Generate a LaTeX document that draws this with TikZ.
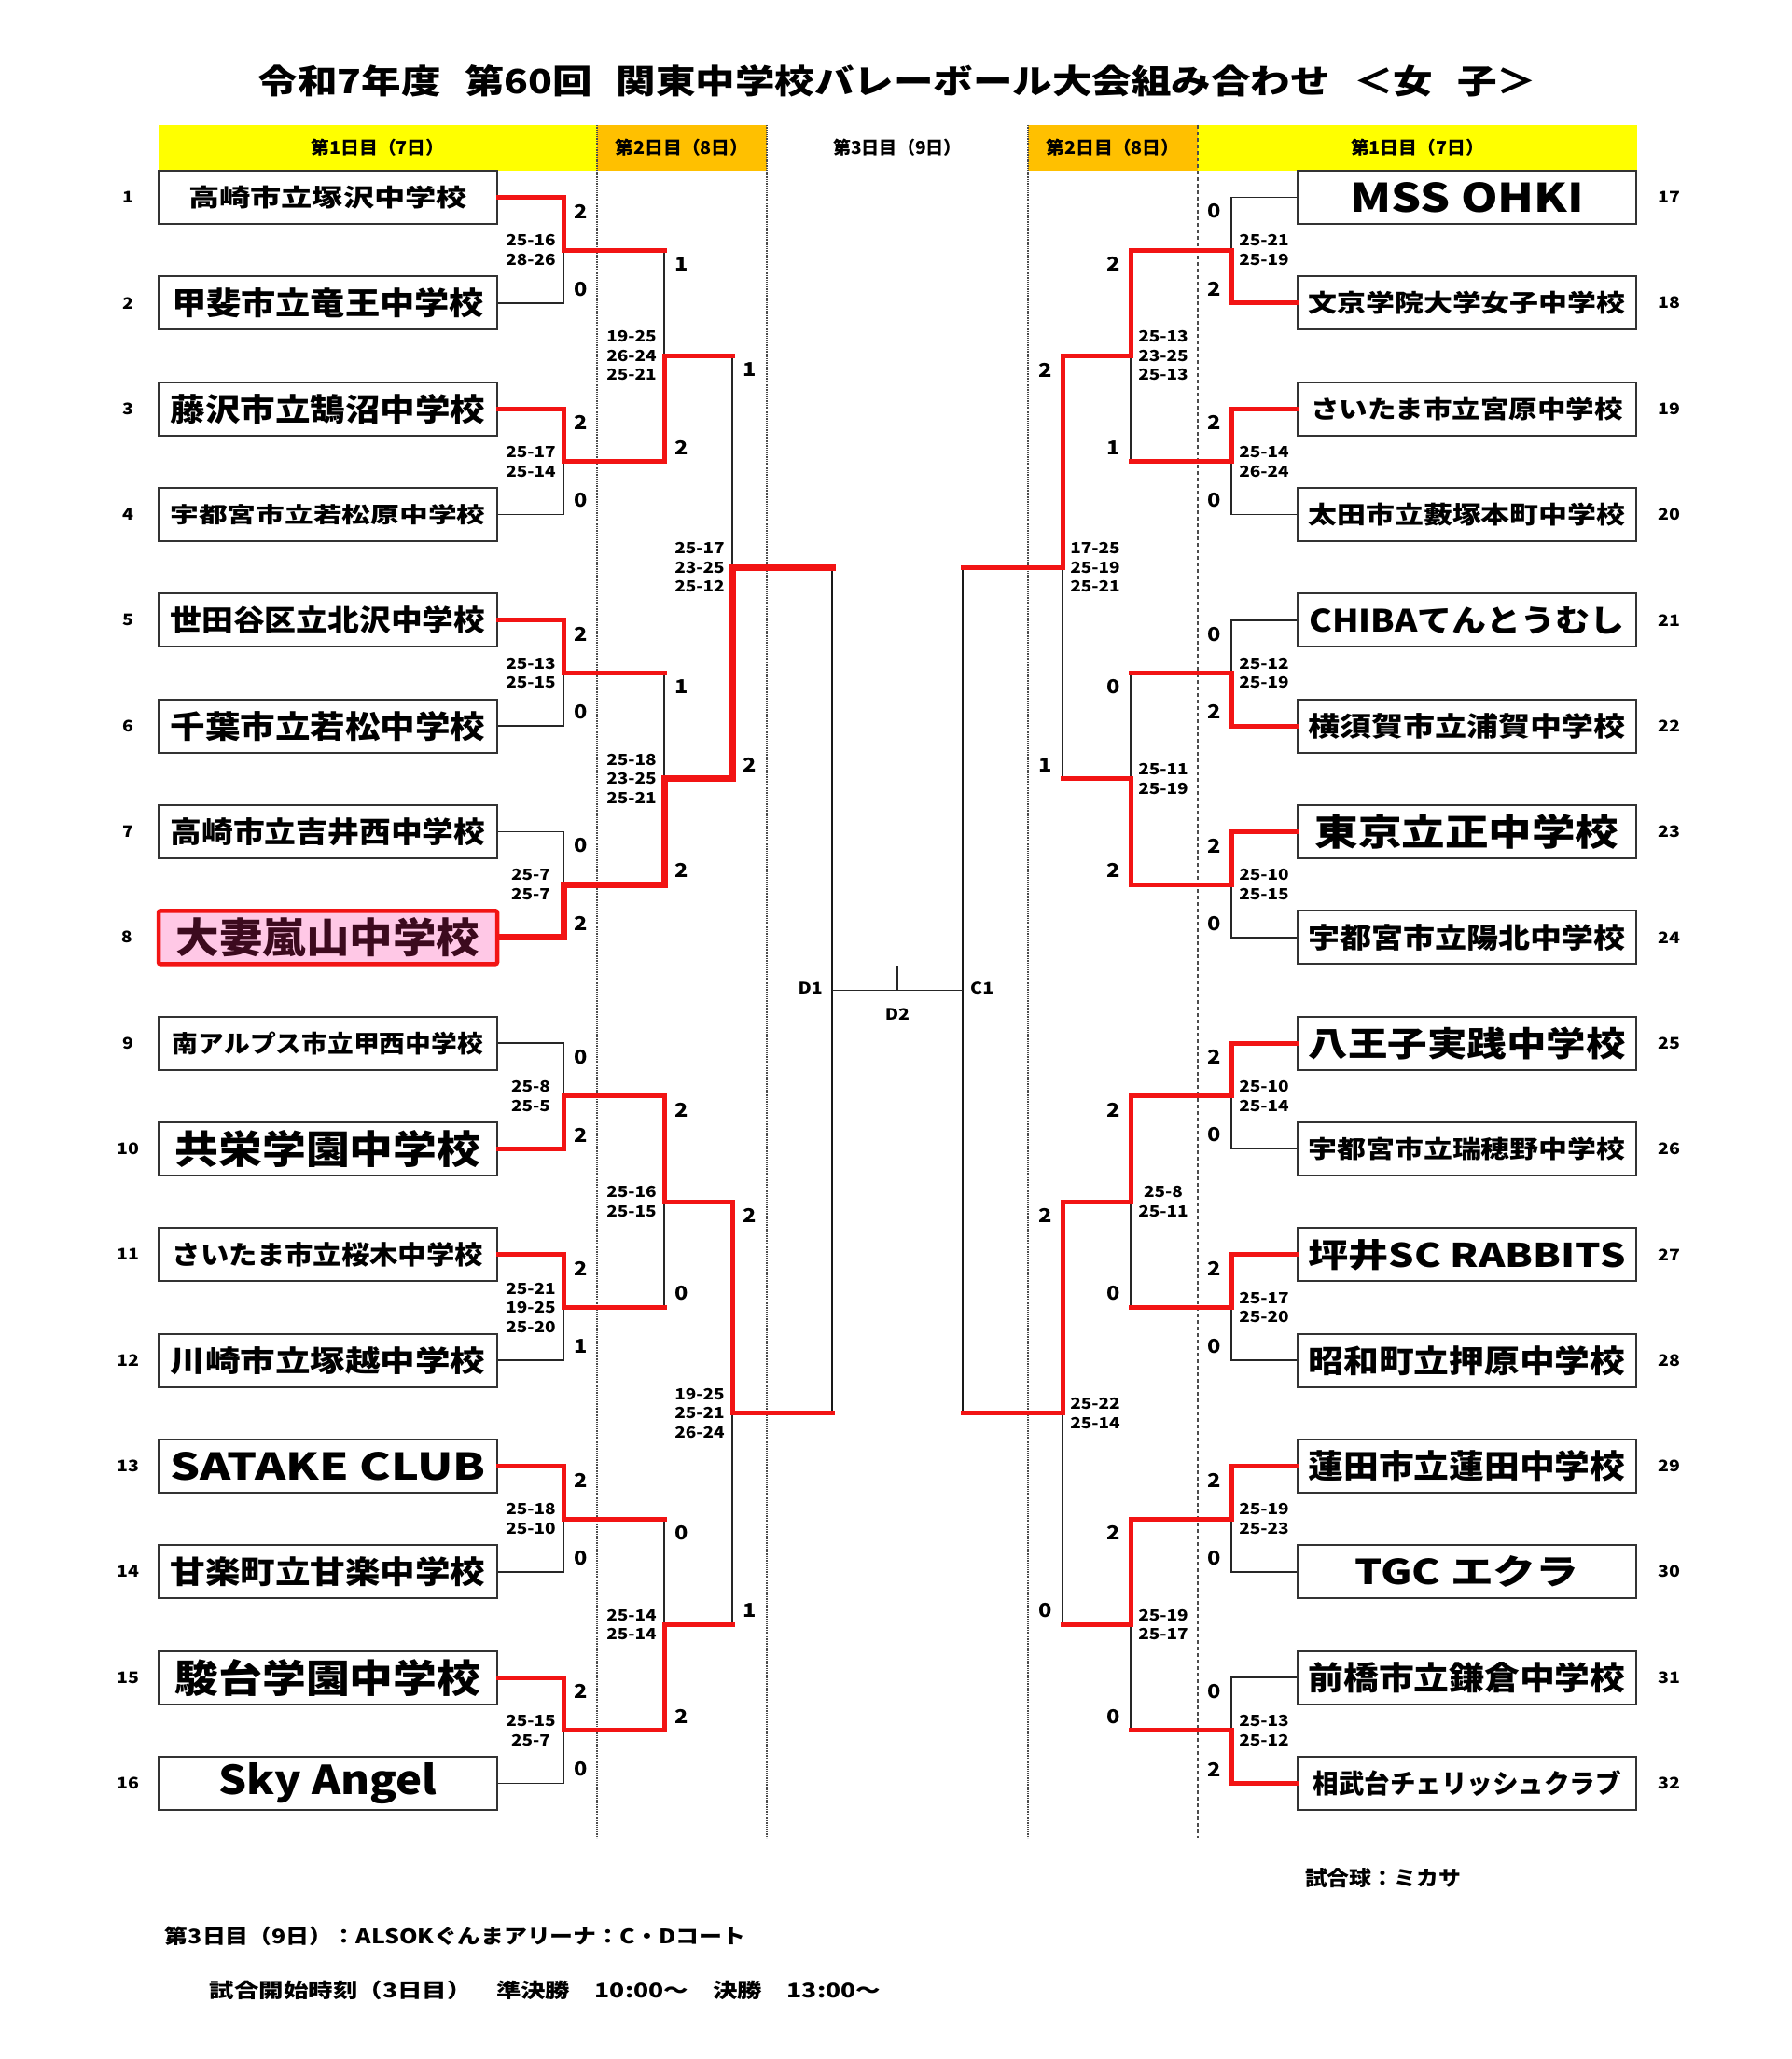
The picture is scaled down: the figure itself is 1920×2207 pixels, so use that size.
\documentclass[tikz,border=0pt]{standalone}
\usepackage{fontspec}
\setmainfont{Noto Sans CJK JP}
\newfontfamily\sm{Noto Sans CJK JP}[FakeStretch=1.15]
\usetikzlibrary{calc}
\definecolor{rd}{HTML}{F21414}
\definecolor{ylw}{HTML}{FFFF00}
\definecolor{org}{HTML}{FFC000}
\definecolor{pnk}{HTML}{FFC8E6}
\definecolor{mar}{HTML}{3C0A1E}
\newcommand\fit[3]{\resizebox{#1pt}{#2pt}{\bfseries #3}}
\newcommand\LS[6]{%
 \node[gs] (#1u) at ($(#1 |- #2)+(19,15)$) {#4};
 \node[gs] (#1l) at ($(#1 |- #3)+(19,-15)$) {#5};
 \node[ss] (#1s) at ($(#1)+(-35,0)$) {#6};}
\newcommand\RS[6]{%
 \node[gs] (#1u) at ($(#1 |- #2)+(-18,15)$) {#4};
 \node[gs] (#1l) at ($(#1 |- #3)+(-18,-15)$) {#5};
 \node[ss] (#1s) at ($(#1)+(35,0)$) {#6};}
\begin{document}
\begin{tikzpicture}[x=1pt,y=-1pt,
  team/.style={draw=black!80,line width=2pt,fill=white,minimum width=363pt,minimum height=57pt,inner sep=0pt},
  hot/.style={draw=rd,line width=4.5pt,fill=pnk,rounded corners=2pt,minimum width=363pt,minimum height=57pt,inner sep=0pt,text=mar},
  num/.style={font=\sm\bfseries\fontsize{17}{17}\selectfont,inner sep=0pt},
  gs/.style={font=\sm\bfseries\fontsize{20.5}{20.5}\selectfont,inner sep=0pt},
  ss/.style={font=\sm\bfseries\fontsize{16.5}{20.5}\selectfont,align=center,inner sep=0pt},
  lw/.style={draw=black!85,line width=1.8pt},
  sfl/.style={draw=black!90,line width=2.4pt},
  rw/.style={draw=rd,line width=5pt,line cap=rect},
  rt/.style={draw=rd,line width=7pt,line cap=rect},
  dv/.style={draw=black!70,line width=1.4pt,densely dotted},
  dh/.style={draw=black!70,line width=1.4pt,dash pattern=on 4pt off 3pt},
  band/.style={inner sep=0pt,minimum height=49pt}
]
\fill[white] (0,0) rectangle (1920,2207);
\useasboundingbox (0,0) rectangle (1920,2207);

% title
\node (title) at (962,87) {\fit{1370}{31}{令和7年度\hspace{0.6em}第60回\hspace{0.6em}関東中学校バレーボール大会組み合わせ\hspace{0.6em}＜女\hspace{0.6em}子＞}};

% header bands
\node[band,fill=ylw,minimum width=470pt] (h1) at (405,158.5) {\fit{143}{16.5}{第1日目（7日）}};
\node[band,fill=org,minimum width=182pt] (h2) at (731,158.5) {\fit{143}{16.5}{第2日目（8日）}};
\node[band,minimum width=280pt] (h3) at (962,158.5) {\fit{138}{16.5}{第3日目（9日）}};
\node[band,fill=org,minimum width=182pt] (h4) at (1193,158.5) {\fit{143}{16.5}{第2日目（8日）}};
\node[band,fill=ylw,minimum width=471pt] (h5) at (1519.5,158.5) {\fit{143}{16.5}{第1日目（7日）}};

% day separators
\draw[dv] (640,134) -- (640,1970);
\draw[dv] (822,134) -- (822,1970);
\draw[dv] (1102,134) -- (1102,1970);
\draw[dh] (1284,134) -- (1284,1970);

% teams left
\node[team] (t1) at (351.5,211.5) {\fit{299}{22.5}{高崎市立塚沢中学校}};
\node[team] (t2) at (351.5,324.8) {\fit{335}{29}{甲斐市立竜王中学校}};
\node[team] (t3) at (351.5,438.2) {\fit{338}{29}{藤沢市立鵠沼中学校}};
\node[team] (t4) at (351.5,551.5) {\fit{338}{20}{宇都宮市立若松原中学校}};
\node[team] (t5) at (351.5,664.8) {\fit{338}{27}{世田谷区立北沢中学校}};
\node[team] (t6) at (351.5,778.2) {\fit{338}{29}{千葉市立若松中学校}};
\node[team] (t7) at (351.5,891.5) {\fit{338}{27}{高崎市立吉井西中学校}};
\node[hot] (t8) at (351.5,1004.8) {\fit{326}{38}{大妻嵐山中学校}};
\node[team] (t9) at (351.5,1118.2) {\fit{333}{22.5}{南アルプス市立甲西中学校}};
\node[team] (t10) at (351.5,1231.5) {\fit{328}{36}{共栄学園中学校}};
\node[team] (t11) at (351.5,1344.8) {\fit{333}{24}{さいたま市立桜木中学校}};
\node[team] (t12) at (351.5,1458.2) {\fit{338}{27}{川崎市立塚越中学校}};
\node[team] (t13) at (351.5,1571.5) {\fit{338}{30}{SATAKE CLUB}};
\node[team] (t14) at (351.5,1684.8) {\fit{338}{29}{甘楽町立甘楽中学校}};
\node[team] (t15) at (351.5,1798.2) {\fit{328}{36}{駿台学園中学校}};
\node[team] (t16) at (351.5,1911.5) {\fit{234}{34}{Sky Angel}};
% teams right
\node[team] (t17) at (1572.5,211.5) {\fit{251}{32}{MSS OHKI}};
\node[team] (t18) at (1572.5,324.8) {\fit{340}{22.5}{文京学院大学女子中学校}};
\node[team] (t19) at (1572.5,438.2) {\fit{335}{22.5}{さいたま市立宮原中学校}};
\node[team] (t20) at (1572.5,551.5) {\fit{340}{22.5}{太田市立藪塚本町中学校}};
\node[team] (t21) at (1572.5,664.8) {\fit{338}{27}{CHIBAてんとうむし}};
\node[team] (t22) at (1572.5,778.2) {\fit{340}{25}{横須賀市立浦賀中学校}};
\node[team] (t23) at (1572.5,891.5) {\fit{326}{34}{東京立正中学校}};
\node[team] (t24) at (1572.5,1004.8) {\fit{340}{26}{宇都宮市立陽北中学校}};
\node[team] (t25) at (1572.5,1118.2) {\fit{340}{31.5}{八王子実践中学校}};
\node[team] (t26) at (1572.5,1231.5) {\fit{340}{22.5}{宇都宮市立瑞穂野中学校}};
\node[team] (t27) at (1572.5,1344.8) {\fit{340}{30}{坪井SC RABBITS}};
\node[team] (t28) at (1572.5,1458.2) {\fit{340}{29}{昭和町立押原中学校}};
\node[team] (t29) at (1572.5,1571.5) {\fit{340}{30}{蓮田市立蓮田中学校}};
\node[team] (t30) at (1572.5,1684.8) {\fit{240}{31}{TGC エクラ}};
\node[team] (t31) at (1572.5,1798.2) {\fit{340}{30}{前橋市立鎌倉中学校}};
\node[team] (t32) at (1572.5,1911.5) {\fit{330}{25}{相武台チェリッシュクラブ}};

% seed numbers
\foreach \i in {1,...,16} {\node[num] (k\i) at ($(t\i.west)+(-32,0)$) {\i};}
\foreach \i in {17,...,32} {\node[num] (k\i) at ($(t\i.east)+(34,0)$) {\i};}

% junctions left
\coordinate (m1) at (604,268.2);  \coordinate (m2) at (604,494.8);
\coordinate (m3) at (604,721.5);  \coordinate (m4) at (604,948.2);
\coordinate (m5) at (604,1174.8); \coordinate (m6) at (604,1401.5);
\coordinate (m7) at (604,1628.2); \coordinate (m8) at (604,1854.8);
\coordinate (m9) at (712,381.5);  \coordinate (m10) at (712,834.8);
\coordinate (m11) at (712,1288.2);\coordinate (m12) at (712,1741.5);
\coordinate (m13) at (785,608.2); \coordinate (m14) at (785,1514.8);
\coordinate (sL) at (892,1061.5);
% junctions right
\coordinate (r1) at (1320,268.2);  \coordinate (r2) at (1320,494.8);
\coordinate (r3) at (1320,721.5);  \coordinate (r4) at (1320,948.2);
\coordinate (r5) at (1320,1174.8); \coordinate (r6) at (1320,1401.5);
\coordinate (r7) at (1320,1628.2); \coordinate (r8) at (1320,1854.8);
\coordinate (r9) at (1212,381.5);  \coordinate (r10) at (1212,834.8);
\coordinate (r11) at (1212,1288.2);\coordinate (r12) at (1212,1741.5);
\coordinate (r13) at (1139,608.2); \coordinate (r14) at (1139,1514.8);
\coordinate (sR) at (1032,1061.5);
\coordinate (d2) at (962,1035);

% left round 1
\draw[lw] (t2.east) -| (m1);  \draw[rw] (t1.east) -| (m1);
\draw[lw] (t4.east) -| (m2);  \draw[rw] (t3.east) -| (m2);
\draw[lw] (t6.east) -| (m3);  \draw[rw] (t5.east) -| (m3);
\draw[lw] (t7.east) -| (m4);  \draw[rt] (t8.east) -| (m4);
\draw[lw] (t9.east) -| (m5);  \draw[rw] (t10.east) -| (m5);
\draw[lw] (t12.east) -| (m6); \draw[rw] (t11.east) -| (m6);
\draw[lw] (t14.east) -| (m7); \draw[rw] (t13.east) -| (m7);
\draw[lw] (t16.east) -| (m8); \draw[rw] (t15.east) -| (m8);
% left round 2
\draw[lw] (m1 -| m9) -- (m9);   \draw[rw] (m1) -- (m1 -| m9);   \draw[rw] (m2) -| (m9);
\draw[lw] (m3 -| m10) -- (m10); \draw[rw] (m3) -- (m3 -| m10); \draw[rt] (m4) -| (m10);
\draw[lw] (m6 -| m11) -- (m11); \draw[rw] (m6) -- (m6 -| m11); \draw[rw] (m5) -| (m11);
\draw[lw] (m7 -| m12) -- (m12); \draw[rw] (m7) -- (m7 -| m12); \draw[rw] (m8) -| (m12);
% left round 3
\draw[lw] (m9 -| m13) -- (m13);  \draw[rw] (m9) -- (m9 -| m13);   \draw[rt] (m10) -| (m13);
\draw[lw] (m12 -| m14) -- (m14); \draw[rw] (m12) -- (m12 -| m14); \draw[rw] (m11) -| (m14);
% left semifinal
\draw[sfl] (m13 -| sL) -- (m14 -| sL);
\draw[rt] (m13) -- (m13 -| sL);
\draw[rw] (m14) -- (m14 -| sL);

% right round 1
\draw[lw] (t17.west) -| (r1); \draw[rw] (t18.west) -| (r1);
\draw[lw] (t20.west) -| (r2); \draw[rw] (t19.west) -| (r2);
\draw[lw] (t21.west) -| (r3); \draw[rw] (t22.west) -| (r3);
\draw[lw] (t24.west) -| (r4); \draw[rw] (t23.west) -| (r4);
\draw[lw] (t26.west) -| (r5); \draw[rw] (t25.west) -| (r5);
\draw[lw] (t28.west) -| (r6); \draw[rw] (t27.west) -| (r6);
\draw[lw] (t30.west) -| (r7); \draw[rw] (t29.west) -| (r7);
\draw[lw] (t31.west) -| (r8); \draw[rw] (t32.west) -| (r8);
% right round 2
\draw[lw] (r2 -| r9) -- (r9);   \draw[rw] (r2) -- (r2 -| r9);   \draw[rw] (r1) -| (r9);
\draw[lw] (r3 -| r10) -- (r10); \draw[rw] (r3) -- (r3 -| r10); \draw[rw] (r4) -| (r10);
\draw[lw] (r6 -| r11) -- (r11); \draw[rw] (r6) -- (r6 -| r11); \draw[rw] (r5) -| (r11);
\draw[lw] (r8 -| r12) -- (r12); \draw[rw] (r8) -- (r8 -| r12); \draw[rw] (r7) -| (r12);
% right round 3
\draw[lw] (r10 -| r13) -- (r13); \draw[rw] (r10) -- (r10 -| r13); \draw[rw] (r9) -| (r13);
\draw[lw] (r12 -| r14) -- (r14); \draw[rw] (r12) -- (r12 -| r14); \draw[rw] (r11) -| (r14);
% right semifinal
\draw[sfl] (r13 -| sR) -- (r14 -| sR);
\draw[rw] (r13) -- (r13 -| sR);
\draw[rw] (r14) -- (r14 -| sR);

% final
\draw[lw] (sL) -- (sR);
\draw[lw] (d2) -- (d2 |- sL);
\node[num,anchor=east] (dl1) at ($(sL)+(-10,-2)$) {D1};
\node[num,anchor=west] (cl1) at ($(sR)+(8,-2)$) {C1};
\node[num] (dl2) at ($(d2 |- sL)+(0,26)$) {D2};

% scores left
\LS{m1}{t1}{t2}{2}{0}{25-16\\28-26}
\LS{m2}{t3}{t4}{2}{0}{25-17\\25-14}
\LS{m3}{t5}{t6}{2}{0}{25-13\\25-15}
\LS{m4}{t7}{t8}{0}{2}{25-7\\25-7}
\LS{m5}{t9}{t10}{0}{2}{25-8\\25-5}
\LS{m6}{t11}{t12}{2}{1}{25-21\\19-25\\25-20}
\LS{m7}{t13}{t14}{2}{0}{25-18\\25-10}
\LS{m8}{t15}{t16}{2}{0}{25-15\\25-7}
\LS{m9}{m1}{m2}{1}{2}{19-25\\26-24\\25-21}
\LS{m10}{m3}{m4}{1}{2}{25-18\\23-25\\25-21}
\LS{m11}{m5}{m6}{2}{0}{25-16\\25-15}
\LS{m12}{m7}{m8}{0}{2}{25-14\\25-14}
\LS{m13}{m9}{m10}{1}{2}{25-17\\23-25\\25-12}
\LS{m14}{m11}{m12}{2}{1}{19-25\\25-21\\26-24}
% scores right
\RS{r1}{t17}{t18}{0}{2}{25-21\\25-19}
\RS{r2}{t19}{t20}{2}{0}{25-14\\26-24}
\RS{r3}{t21}{t22}{0}{2}{25-12\\25-19}
\RS{r4}{t23}{t24}{2}{0}{25-10\\25-15}
\RS{r5}{t25}{t26}{2}{0}{25-10\\25-14}
\RS{r6}{t27}{t28}{2}{0}{25-17\\25-20}
\RS{r7}{t29}{t30}{2}{0}{25-19\\25-23}
\RS{r8}{t31}{t32}{0}{2}{25-13\\25-12}
\RS{r9}{r1}{r2}{2}{1}{25-13\\23-25\\25-13}
\RS{r10}{r3}{r4}{0}{2}{25-11\\25-19}
\RS{r11}{r5}{r6}{2}{0}{25-8\\25-11}
\RS{r12}{r7}{r8}{2}{0}{25-19\\25-17}
\RS{r13}{r9}{r10}{2}{1}{17-25\\25-19\\25-21}
\RS{r14}{r11}{r12}{2}{0}{25-22\\25-14}

% footer
\node (ball) at (1482.5,2013) {\fit{167}{19}{試合球：ミカサ}};
\node (venue) at (488,2075) {\fit{622}{18.5}{第3日目（9日）：ALSOKぐんまアリーナ：C・Dコート}};
\node (time) at (584.5,2133) {\fit{719}{18.5}{試合開始時刻（3日目）　準決勝　10:00～　決勝　13:00～}};
\end{tikzpicture}
\end{document}
